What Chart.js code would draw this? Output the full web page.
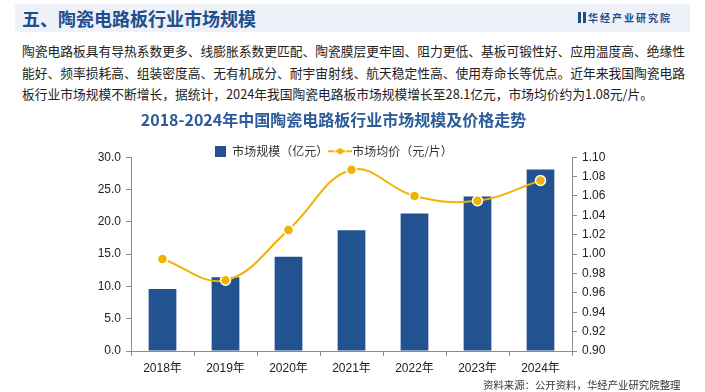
<!DOCTYPE html>
<html>
<head>
<meta charset="utf-8">
<script src="https://cdn.jsdelivr.net/npm/chart.js@4.4.1/dist/chart.umd.min.js"></script>
<style>
  body { margin: 0; width: 705px; height: 392px; background: #fff; position: relative; overflow: hidden;
         font-family: "Noto Sans CJK SC", "Liberation Sans", sans-serif; }
  #band { position: absolute; left: 15px; top: 4px; width: 675px; height: 28px; background: #eef2f8; }
  #head { position: absolute; left: 22px; top: 5px; font-size: 18px; font-weight: bold; color: #1f4e8c; line-height: 26px; }
  #logo { position: absolute; left: 578px; top: 11px; font-size: 10px; font-weight: bold; color: #1f4e8c; letter-spacing: 2px; line-height: 14px; }
  #logo span { display: inline-block; width: 3px; height: 11px; background: #1f4e8c; margin-right: 2px; vertical-align: -1px; }
  #para { position: absolute; left: 22px; top: 40px; font-size: 12.75px; color: #222; line-height: 21.5px; white-space: nowrap; }
  #wrap { position: absolute; left: 0; top: 105px; width: 667px; height: 287px; }
  #src { position: absolute; left: 483px; top: 377px; font-size: 10.4px; color: #333; white-space: nowrap; }
</style>
</head>
<body>
<div id="band"></div>
<div id="head">五、陶瓷电路板行业市场规模</div>
<div id="logo"><span></span><span></span>华经产业研究院</div>
<div id="para">陶瓷电路板具有导热系数更多、线膨胀系数更匹配、陶瓷膜层更牢固、阻力更低、基板可锻性好、应用温度高、绝缘性<br>能好、频率损耗高、组装密度高、无有机成分、耐宇宙射线、航天稳定性高、使用寿命长等优点。近年来我国陶瓷电路<br>板行业市场规模不断增长，据统计，2024年我国陶瓷电路板市场规模增长至28.1亿元，市场均价约为1.08元/片。</div>
<div id="wrap"><canvas id="myChart" width="667" height="287"></canvas></div>
<div id="src">资料来源：公开资料，华经产业研究院整理</div>
<script>
// chart data
const years = ['2018年', '2019年', '2020年', '2021年', '2022年', '2023年', '2024年'];
const marketSize = [9.6, 11.4, 14.6, 18.7, 21.3, 23.9, 28.1];
const avgPrice = [0.995, 0.973, 1.025, 1.087, 1.060, 1.055, 1.076];
const sizeLabel = '市场规模（亿元）';
const priceLabel = '市场均价（元/片）';

const blue = '#22528f';
const gold = '#f0b400';

Chart.defaults.font.family = '"Liberation Sans", "Noto Sans CJK SC", sans-serif';
Chart.defaults.color = '#333';

// legend markers
const barMark = document.createElement('canvas');
barMark.width = 11; barMark.height = 11;
let c = barMark.getContext('2d');
c.fillStyle = blue; c.fillRect(0, 0, 11, 11);

const lineMark = document.createElement('canvas');
lineMark.width = 24; lineMark.height = 10;
c = lineMark.getContext('2d');
c.strokeStyle = gold; c.lineWidth = 2;
c.beginPath(); c.moveTo(0, 5); c.lineTo(6, 5); c.moveTo(18, 5); c.lineTo(24, 5); c.stroke();
c.fillStyle = gold; c.beginPath(); c.arc(12, 5, 3, 0, Math.PI * 2); c.fill();
c.beginPath(); c.moveTo(7, 5); c.lineTo(17, 5); c.stroke();

const axisGrey = '#8c8c8c';

const myChart = new Chart(document.getElementById('myChart'), {
    data: {
        labels: years,
        datasets: [
            {
                type: 'line',
                label: priceLabel,
                data: avgPrice,
                yAxisID: 'y1',
                borderColor: gold,
                borderWidth: 2,
                tension: 0.4,
                pointRadius: 5,
                pointBackgroundColor: gold,
                pointBorderColor: '#fff',
                pointBorderWidth: 1.5,
                order: 0
            },
            {
                type: 'bar',
                label: sizeLabel,
                data: marketSize,
                yAxisID: 'y',
                backgroundColor: blue,
                barPercentage: 0.44,
                categoryPercentage: 1,
                order: 1
            }
        ]
    },
    options: {
        responsive: false,
        animation: false,
        layout: { padding: 0 },
        plugins: {
            title: {
                display: true,
                text: '2018-2024年中国陶瓷电路板行业市场规模及价格走势',
                color: '#2b5b98',
                font: { size: 16, weight: 'bold', family: '"Noto Sans CJK SC", sans-serif' },
                padding: { top: 5, bottom: 10 }
            },
            legend: {
                position: 'top',
                maxHeight: 18,
                labels: {
                    usePointStyle: true,
                    padding: 6,
                    color: '#333',
                    font: { size: 12, family: '"Noto Sans CJK SC", sans-serif' },
                    generateLabels: function () {
                        return [
                            { text: sizeLabel, pointStyle: barMark, datasetIndex: 1, fontColor: '#333', lineWidth: 0 },
                            { text: priceLabel, pointStyle: lineMark, datasetIndex: 0, fontColor: '#333', lineWidth: 0 }
                        ];
                    }
                }
            },
            tooltip: { enabled: false }
        },
        scales: {
            x: {
                grid: { drawOnChartArea: false, offset: true, color: axisGrey, tickLength: 5 },
                border: { color: axisGrey },
                ticks: { font: { size: 12 }, color: '#222', padding: 5 },
                afterFit: function (s) { s.height = 41; }
            },
            y: {
                position: 'left',
                min: 0, max: 30,
                ticks: { stepSize: 5, callback: v => v.toFixed(1), font: { size: 12 }, color: '#222', padding: 5 },
                grid: { drawOnChartArea: false, color: axisGrey, tickLength: 5 },
                border: { color: axisGrey },
                afterFit: function (s) { s.width = 131; }
            },
            y1: {
                position: 'right',
                min: 0.9, max: 1.1,
                ticks: { stepSize: 0.02, callback: v => v.toFixed(2), font: { size: 12 }, color: '#222', padding: 5 },
                grid: { drawOnChartArea: false, color: axisGrey, tickLength: 5 },
                border: { color: axisGrey },
                afterFit: function (s) { s.width = 95; }
            }
        }
    }
});
</script>
</body>
</html>
